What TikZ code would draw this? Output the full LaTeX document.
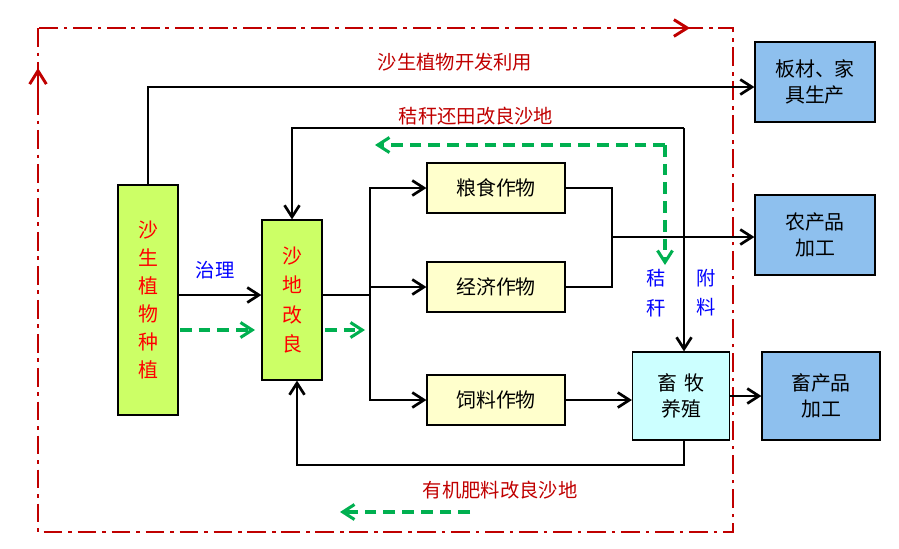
\documentclass[tikz,border=0pt]{standalone}
\usepackage{fontspec}
\setmainfont{Noto Sans CJK SC}
\usetikzlibrary{positioning,arrows.meta}
\definecolor{boxgreen}{HTML}{CCFF66}
\definecolor{boxyellow}{HTML}{FFFFCC}
\definecolor{boxcyan}{HTML}{CCFFFF}
\definecolor{boxblue}{HTML}{8EC0EE}
\definecolor{darkred}{HTML}{C00000}
\definecolor{dgreen}{HTML}{00B050}
\tikzset{
  box/.style={draw, line width=1pt, inner sep=0pt, font=\fontsize{17}{22}\selectfont},
  arr/.style={-{Straight Barb[length=3.5mm,width=4.5mm]}, line width=2.3pt},
  garr/.style={-{Straight Barb[length=3.5mm,width=4.5mm]}, line width=2.6pt, dgreen, dash pattern=on 10pt off 6pt},
  lbl/.style={font=\fontsize{16.5}{20}\selectfont}
}
\begin{document}
\begin{tikzpicture}[x=0.03cm,y=-0.03cm]
   \useasboundingbox (0,0) rectangle (899,548);
   \draw[darkred, line width=2.5pt, dash pattern=on 16pt off 5pt on 3pt off 5pt] (38,28) rectangle (733,532);
   \draw[darkred, line width=2.5pt, -{Straight Barb[length=4mm,width=5mm]}] (655,28) -- (690,28);
   \draw[darkred, line width=2.5pt, -{Straight Barb[length=4mm,width=5mm]}] (38,105) -- (38,68);

   \node[box, fill=boxgreen, minimum width=60*0.03cm, minimum height=230*0.03cm, text=red, align=center] (plant) at (148,300) {沙\\[2pt]生\\[2pt]植\\[2pt]物\\[2pt]种\\[2pt]植};
   \node[box, fill=boxgreen, minimum width=60*0.03cm, minimum height=160*0.03cm, text=red, align=center] (improve) at (292,300) {沙\\[3pt]地\\[3pt]改\\[3pt]良};
   \node[box, fill=boxyellow, minimum width=138*0.03cm, minimum height=50*0.03cm] (grain) at (496,188) {粮食作物};
   \node[box, fill=boxyellow, minimum width=138*0.03cm, minimum height=50*0.03cm] (cash) at (496,287) {经济作物};
   \node[box, fill=boxyellow, minimum width=138*0.03cm, minimum height=50*0.03cm] (feed) at (496,400) {饲料作物};
   \node[box, fill=boxcyan, minimum width=97*0.03cm, minimum height=88*0.03cm, align=center] (live) at (681,396) {畜\,\,牧\\养殖};
   \node[box, fill=boxblue, minimum width=120*0.03cm, minimum height=80*0.03cm, align=center] (board) at (815,82) {板材、家\\具生产};
   \node[box, fill=boxblue, minimum width=120*0.03cm, minimum height=80*0.03cm, align=center] (farm) at (815,235) {农产品\\加工};
   \node[box, fill=boxblue, minimum width=118*0.03cm, minimum height=88*0.03cm, align=center] (animal) at (821,396) {畜产品\\加工};

   \coordinate (topturn) at (148,87);
   \coordinate (strawR) at (684,128);
   \coordinate (strawL) at (292,128);
   \coordinate (split) at (370,295);
   \coordinate (merge) at (612,237);
   \coordinate (manureR) at (684,465);
   \coordinate (manureL) at (297,465);
   \coordinate (gcorner) at (665,145);

   \draw[arr] (plant.north) -- (topturn) -- (board.west |- topturn);
   \draw[arr] (strawR) -- (strawL) -- (improve.north);
   \draw[arr] (strawR) -- (strawR |- live.north);
   \draw[arr] (plant.east |- split) -- (improve.west |- split);
   \draw[line width=2.3pt] (improve.east |- split) -- (split);
   \draw[arr] (split) |- (grain.west);
   \draw[arr] (split) |- (cash.west);
   \draw[arr] (split) |- (feed.west);
   \draw[line width=2.3pt] (grain.east) -| (merge) |- (cash.east);
   \draw[arr] (merge) -- (farm.west |- merge);
   \draw[arr] (feed.east) -- (live.west |- feed);
   \draw[arr] (live.east) -- (animal.west);
   \draw[arr] (live.south -| manureR) -- (manureR) -- (manureL) -- (improve.south -| manureL);

   \draw[garr] (gcorner) -- (375,145);
   \draw[garr] (gcorner) -- (665,265);
   \draw[garr] (180,330) -- (255,330);
   \draw[garr] (325,330) -- (365,330);
   \draw[garr] (470,512) -- (340,512);

   \node[lbl, text=darkred] at (455,62) {沙生植物开发利用};
   \node[lbl, text=darkred] at (476,116) {秸秆还田改良沙地};
   \node[lbl, text=darkred] at (500,490) {有机肥料改良沙地};
   \node[lbl, text=blue] at (215,270) {治理};
   \node[lbl, text=blue, align=center] at (656,293) {秸\\[5pt]秆};
   \node[lbl, text=blue, align=center] at (706,293) {附\\[5pt]料};
\end{tikzpicture}
\end{document}
